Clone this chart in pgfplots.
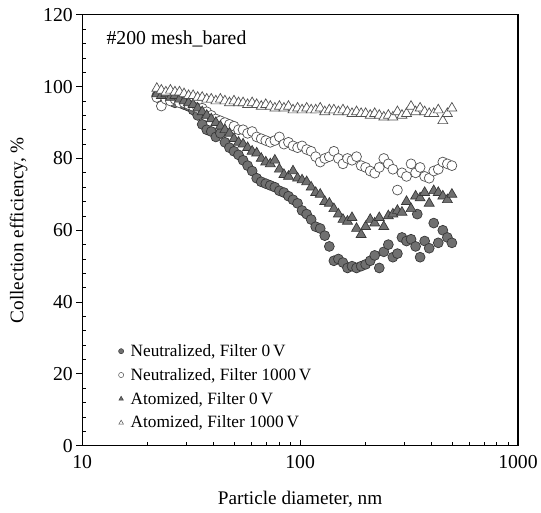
\documentclass[border=0pt]{standalone}
\usepackage{pgfplots}
\pgfplotsset{compat=1.18}
\usepackage{pgfplotstable}
\usepackage{fontspec}
\setmainfont{Liberation Serif}
\definecolor{fillA}{RGB}{112,112,112}
\definecolor{edgeA}{RGB}{55,55,55}
\definecolor{edgeO}{RGB}{80,80,80}

\pgfplotstableread{
d v
22.0 97.5
23.08 96
24.21 97
25.40 96.5
26.65 95.5
27.96 96
29.34 95
30.78 94.5
32.29 93.5
33.88 92
35.54 89.5
37.29 88
39.12 87.5
41.05 86
43.06 87
45.18 84.5
47.40 83
49.73 82
52.17 81
54.74 79.5
57.43 78
60.25 76.5
63.21 74.5
66.32 73.5
69.58 73
73.00 72.5
76.58 72
80.35 71
84.30 70.5
88.44 69.5
92.79 68.5
97.35 67.5
102.1 65.5
107.2 64.5
112.4 63
117.9 61
123.7 60.5
129.8 58.5
136.2 55.5
142.9 51.5
149.9 52
157.3 51
165.0 49.5
173.1 50
181.6 49.5
190.6 50
199.9 50.5
209.8 51.5
220.0 53
230.9 49.5
242.2 54
254.1 56
266.6 52.5
279.7 53.5
293.4 58
307.9 57
323.0 57.5
338.9 55.5
345.0 64.5
355.5 52.5
373.0 57
391.3 55
410.5 62
430.7 56.5
451.9 60
474.1 58
497.4 56.5
}\neuzero

\pgfplotstableread{
d v
22.0 97
23.08 94.6
24.21 96.5
25.40 96
26.65 96.5
27.96 95.5
29.34 95.5
30.78 95
32.29 94.5
33.88 94
35.54 94
37.29 93
39.12 92
41.05 91
43.06 90.5
45.18 90
47.40 89.5
49.73 89
52.17 88
54.74 88
57.43 87
60.25 87.5
63.21 86
66.32 85.5
69.58 85
73.00 84.5
76.58 85
80.35 86
84.30 84
88.44 84.5
92.79 83.5
97.35 83
102.1 83.5
107.2 82.5
112.4 82
117.9 80.5
123.7 79
129.8 80
136.2 80.5
142.9 82
149.9 80
157.3 78.5
165.0 80
173.1 79.5
181.6 80.5
190.6 78
199.9 77.5
209.8 76.5
220.0 75.9
230.9 77.5
242.2 80
254.1 78.5
266.6 77
279.7 71.2
293.4 76
307.9 75
323.0 78.5
338.9 76
355.5 77.5
373.0 75
391.3 74.5
410.5 76.5
430.7 77
451.9 79
474.1 78.5
497.4 78
}\neuthou

\pgfplotstableread{
d v
22.0 98
23.08 97.5
24.21 98
25.40 97
26.65 97.5
27.96 96.5
29.34 96
30.78 95.5
32.29 95
33.88 94
35.54 93
37.29 92
39.12 91
41.05 90
43.06 89
45.18 88
47.40 87
49.73 85.5
52.17 84.5
54.74 84
57.43 83
60.25 82
63.21 81.5
66.32 80
69.58 79
73.00 78.5
76.58 79.5
80.35 77
84.30 75.5
88.44 75
92.79 76.5
97.35 74.5
102.1 74
107.2 73.5
112.4 72
117.9 70.5
123.7 70
129.8 68
136.2 67.5
142.9 66
149.9 64.5
157.3 63
165.0 62.5
173.1 63.5
181.6 60.5
190.6 58.8
199.9 61
209.8 63
220.0 62
230.9 63.5
242.2 61
254.1 64
266.6 64.5
279.7 65.5
293.4 65
307.9 68
323.0 66
338.9 69.5
355.5 69
373.0 70.5
391.3 67.5
410.5 71
430.7 70.5
451.9 69.5
474.1 68.5
497.4 70
}\atozero

\pgfplotstableread{
d v
22.0 99.5
23.08 99
24.21 98.5
25.40 99
26.65 98.5
27.96 98.5
29.34 98
30.78 97.5
32.29 97.5
33.88 97
35.54 97
37.29 96.5
39.12 96.5
41.05 96
43.06 96.5
45.18 96
47.40 95.5
49.73 96
52.17 95.5
54.74 95.5
57.43 95
60.25 95.5
63.21 95
66.32 94.5
69.58 95
73.00 94.5
76.58 94
80.35 94.5
84.30 94
88.44 94.5
92.79 93.5
97.35 94
102.1 93.5
107.2 94
112.4 93.5
117.9 93.5
123.7 94
129.8 93
136.2 93.5
142.9 93.5
149.9 93
157.3 93.5
165.0 93
173.1 92.5
181.6 93
190.6 92.5
199.9 92.5
209.8 92
220.0 92.5
230.9 92
242.2 91.5
254.1 92
266.6 91.5
279.7 93
293.4 92
307.9 92.5
323.0 94.5
338.9 93
355.5 94
373.0 93
391.3 92.5
410.5 92.5
430.7 93.5
451.9 90.5
474.1 92.5
497.4 94
}\atothou

\begin{document}
\begin{tikzpicture}
\begin{axis}[
  name=ax,
  scale only axis,
  width=440bp, height=435bp,
  xmode=log, xmin=10, xmax=1000,
  ymin=0, ymax=120,
  xtick={10,100,1000},
  xticklabels={10,100,1000},
  log ticks with fixed point,
  ytick={0,20,...,120},
  minor y tick num=4,
  xtick pos=bottom, ytick pos=left,
  xtick align=inside, ytick align=outside,
  major tick length=6bp, minor tick length=3.5bp,
  tick style={black, line width=0.8bp},
  minor y tick style={xshift=3.5bp},
  axis line style={black, line width=1.1bp},
  every axis plot/.append style={line width=0.7bp},
  /pgf/number format/assume math mode=true,
  tick label style={font=\fontsize{20}{23}\selectfont},
  xticklabel style={yshift=-6bp},
  xlabel={Particle diameter, nm},
  ylabel={Collection efficiency, \%},
  label style={font=\fontsize{19.5}{22}\selectfont},
  xlabel style={yshift=-16bp},
  ylabel style={yshift=9bp},
  legend style={at={(0.083,0.240)}, anchor=north west, draw=none, fill=none,
    font=\fontsize{17.5}{20}\selectfont, row sep=6.5bp, inner sep=0pt},
  legend cell align=left,
  legend columns=1,
  legend image code/.code={\draw[#1, mark size=2.6bp, line width=0.5bp] plot coordinates {(0.12cm,0cm)};},
]
\addplot[only marks, mark=*, mark size=5bp, draw=edgeA, fill=fillA] table[x=d,y=v] {\neuzero};
\addlegendentry{\hspace{5bp}Neutralized, Filter 0\,V}
\addplot[only marks, mark=*, mark size=5bp, draw=edgeO, fill=white] table[x=d,y=v] {\neuthou};
\addlegendentry{\hspace{5bp}Neutralized, Filter 1000\,V}
\addplot[only marks, mark=triangle*, mark size=5.8bp, draw=edgeA, fill=fillA] table[x=d,y=v] {\atozero};
\addlegendentry{\hspace{5bp}Atomized, Filter 0\,V}
\addplot[only marks, mark=triangle*, mark size=5.8bp, draw=edgeO, fill=white] table[x=d,y=v] {\atothou};
\addlegendentry{\hspace{5bp}Atomized, Filter 1000\,V}
\node[anchor=west, font=\fontsize{20}{23}\selectfont] at (rel axis cs:0.048,0.943) {\#200 mesh\_bared};
\end{axis}
\path ([shift={(-83bp,-67bp)}]ax.south west) rectangle ([shift={(18bp,15bp)}]ax.north east);
\end{tikzpicture}
\end{document}
